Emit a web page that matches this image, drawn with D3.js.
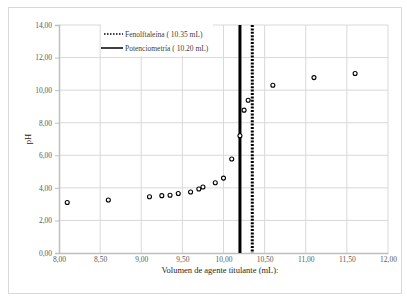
<!DOCTYPE html>
<html>
<head>
<meta charset="utf-8">
<script src="https://cdn.jsdelivr.net/npm/d3@7"></script>
<style>
  body { margin:0; background:#fff; }
  text { font-family: "Liberation Serif", "DejaVu Serif", serif; }
</style>
</head>
<body>
<div id="chart"></div>
<script>
// volumen (mL) y pH
var volumen = [8.10, 8.60, 9.10, 9.25, 9.35, 9.45, 9.60, 9.70, 9.75, 9.90, 10.00, 10.10, 10.20, 10.25, 10.30, 10.60, 11.10, 11.60];
var ph      = [3.10, 3.25, 3.45, 3.52, 3.55, 3.65, 3.75, 3.93, 4.05, 4.31, 4.60, 5.77, 7.20, 8.77, 9.38, 10.30, 10.77, 11.02];

var xTicks = [8, 8.5, 9, 9.5, 10, 10.5, 11, 11.5, 12];
var yTicks = [0, 2, 4, 6, 8, 10, 12, 14];

var puntoFinal = [
  {label: "Fenolftaleína ( 10.35 mL)", v: 10.35, dash: "2,1.4"},
  {label: "Potenciometría  ( 10.20 mL)", v: 10.20, dash: null}
];

var W = 407, H = 296;
var pL = 59, pR = 388, pT = 25, pB = 253;

var svg = d3.select("#chart").append("svg")
  .attr("width", W).attr("height", H);

svg.append("rect")
  .attr("x", 8.5).attr("y", 7.5)
  .attr("width", 393).attr("height", 286)
  .attr("fill", "#fff").attr("stroke", "#d9d9d9");

var x = d3.scaleLinear().domain([8, 12]).range([pL, pR]);
var y = d3.scaleLinear().domain([0, 14]).range([pB, pT]);

var fmt = function(d) { return d3.format(".2f")(d).replace(".", ","); };

// rejilla
svg.append("g").selectAll("line").data(xTicks.slice(1)).enter().append("line")
  .attr("x1", function(d){ return x(d); }).attr("x2", function(d){ return x(d); })
  .attr("y1", pT).attr("y2", pB)
  .attr("stroke", "#d9d9d9").attr("stroke-width", 1);

svg.append("g").selectAll("line").data(yTicks.slice(1)).enter().append("line")
  .attr("x1", pL).attr("x2", pR)
  .attr("y1", function(d){ return y(d); }).attr("y2", function(d){ return y(d); })
  .attr("stroke", "#d9d9d9").attr("stroke-width", 1);

// ejes
var yAxis = svg.append("g")
  .attr("transform", "translate(" + pL + ",0)")
  .call(d3.axisLeft(y).tickValues(yTicks).tickFormat(fmt).tickSize(4).tickPadding(3));
var xAxis = svg.append("g")
  .attr("transform", "translate(0," + pB + ")")
  .call(d3.axisBottom(x).tickValues(xTicks).tickFormat(fmt).tickSize(0).tickPadding(4));

[yAxis, xAxis].forEach(function(a) {
  a.select(".domain").attr("stroke", "#bfbfbf").attr("stroke-width", 1.5);
  a.selectAll(".tick line").attr("stroke", "#bfbfbf");
  a.selectAll("text")
    .attr("font-family", "Liberation Serif")
    .attr("font-size", "7.5px")
    .attr("fill", "#595959");
});

// lineas verticales de punto final
svg.append("g").selectAll("line").data(puntoFinal).enter().append("line")
  .attr("x1", function(d){ return x(d.v); }).attr("x2", function(d){ return x(d.v); })
  .attr("y1", pT).attr("y2", pB)
  .attr("stroke", "#000").attr("stroke-width", 3)
  .attr("stroke-dasharray", function(d){ return d.dash; });

// puntos
svg.append("g").selectAll("circle").data(volumen).enter().append("circle")
  .attr("cx", function(d){ return x(d); })
  .attr("cy", function(d, i){ return y(ph[i]); })
  .attr("r", 2)
  .attr("fill", "#fff").attr("stroke", "#000").attr("stroke-width", 1.1);

// leyenda
var leg = svg.append("g").attr("transform", "translate(101,24)");
leg.append("rect").attr("width", 112).attr("height", 32).attr("fill", "#fff");
var li = leg.selectAll("g").data(puntoFinal).enter().append("g")
  .attr("transform", function(d, i){ return "translate(0," + (10 + i * 14) + ")"; });
li.append("line")
  .attr("x1", function(d){ return d.dash ? 3 : 0; }).attr("x2", 22)
  .attr("stroke", "#000")
  .attr("stroke-width", 1.5)
  .attr("stroke-dasharray", function(d){ return d.dash ? "1.5,1.5" : null; });
li.append("text")
  .attr("x", 24).attr("y", 0)
  .attr("dominant-baseline", "central")
  .attr("font-size", "7.5px")
  .attr("fill", "#404040")
  .text(function(d){ return d.label; });

// titulos
svg.append("text")
  .attr("x", 220).attr("y", 273)
  .attr("text-anchor", "middle")
  .attr("font-size", "8.5px")
  .attr("fill", "#262626")
  .text("Volumen  de  agente titulante (mL):");

svg.append("text")
  .attr("transform", "translate(31,139) rotate(-90)")
  .attr("text-anchor", "middle")
  .attr("font-size", "8.5px")
  .attr("fill", "#262626")
  .text("pH");
</script>
</body>
</html>
